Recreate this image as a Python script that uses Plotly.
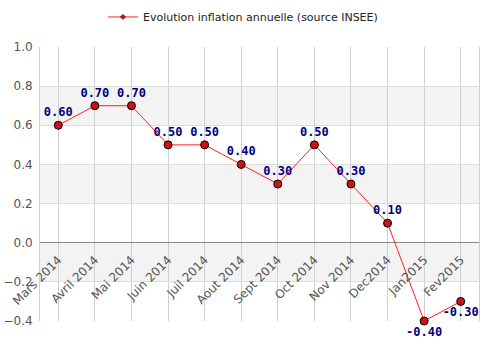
import plotly.graph_objects as go

months = ["Mars 2014", "Avril 2014", "Mai 2014", "Juin 2014", "Juil 2014", "Aout 2014",
          "Sept 2014", "Oct 2014", "Nov 2014", "Dec2014", "Jan2015", "Fev2015"]
inflation = [0.6, 0.7, 0.7, 0.5, 0.5, 0.4, 0.3, 0.5, 0.3, 0.1, -0.4, -0.3]
y_ticks = [-0.4, -0.2, 0.0, 0.2, 0.4, 0.6, 0.8, 1.0]
series_name = "Evolution inflation annuelle (source INSEE)"

y_min, y_max = y_ticks[0], y_ticks[-1]
zero_pos = (0 - y_min) / (y_max - y_min)

fig = go.Figure()

# alternating background bands (every other tick interval, starting from -0.2..0.0)
shapes = []
for i in range(1, len(y_ticks) - 1, 2):
    shapes.append(dict(type="rect", xref="paper", yref="y", x0=0, x1=1,
                       y0=y_ticks[i], y1=y_ticks[i + 1],
                       fillcolor="#f3f3f3", line=dict(width=0), layer="below"))

positions = ["top center" if v >= 0 else "bottom center" for v in inflation]

fig.add_trace(go.Scatter(
    x=months, y=inflation, name=series_name,
    mode="lines+markers+text",
    line=dict(color="#ff2020", width=1),
    marker=dict(symbol="circle", size=8, color="#cc1414", line=dict(color="#000000", width=1)),
    texttemplate="%{y:.2f}", textposition=positions,
    textfont=dict(family="DejaVu Sans Mono", size=12, color="#000080", weight="bold"),
    cliponaxis=False, showlegend=False,
))

# legend-only entry with a small symbol
fig.add_trace(go.Scatter(
    x=[None], y=[None], name=series_name, mode="lines+markers",
    line=dict(color="#ff2020", width=1),
    marker=dict(symbol="diamond", size=4, color="#cc1414", line=dict(color="#000000", width=0.5)),
    showlegend=True,
))

fig.update_layout(
    width=486, height=353,
    margin=dict(l=40, r=7, t=47, b=32, autoexpand=False),
    paper_bgcolor="white", plot_bgcolor="white",
    shapes=shapes,
    font=dict(family="DejaVu Sans", color="#555555", size=11),
    legend=dict(orientation="h", xref="container", yref="container", x=0.5, y=0.952,
                xanchor="center", yanchor="middle", itemwidth=30,
                font=dict(family="DejaVu Sans", size=11, color="#222222")),
    xaxis=dict(
        type="category", range=[-0.5, len(months) - 0.5],
        anchor="free", position=zero_pos, automargin=False,
        tickangle=-45, showgrid=True, gridcolor="#d0d0d0", gridwidth=1,
        showline=False, ticks="", ticklabelstandoff=7,
        tickfont=dict(size=12, color="#555555"),
    ),
    yaxis=dict(
        range=[y_min, y_max], tickvals=y_ticks, tickformat=".1f", automargin=False,
        showgrid=True, gridcolor="#dddddd", gridwidth=1,
        zeroline=True, zerolinecolor="#888888", zerolinewidth=1,
        showline=True, mirror=True, linecolor="#d0d0d0", linewidth=1,
        ticks="", ticklabelstandoff=4, tickfont=dict(size=12, color="#555555"),
    ),
)

fig.write_html("out.html")
